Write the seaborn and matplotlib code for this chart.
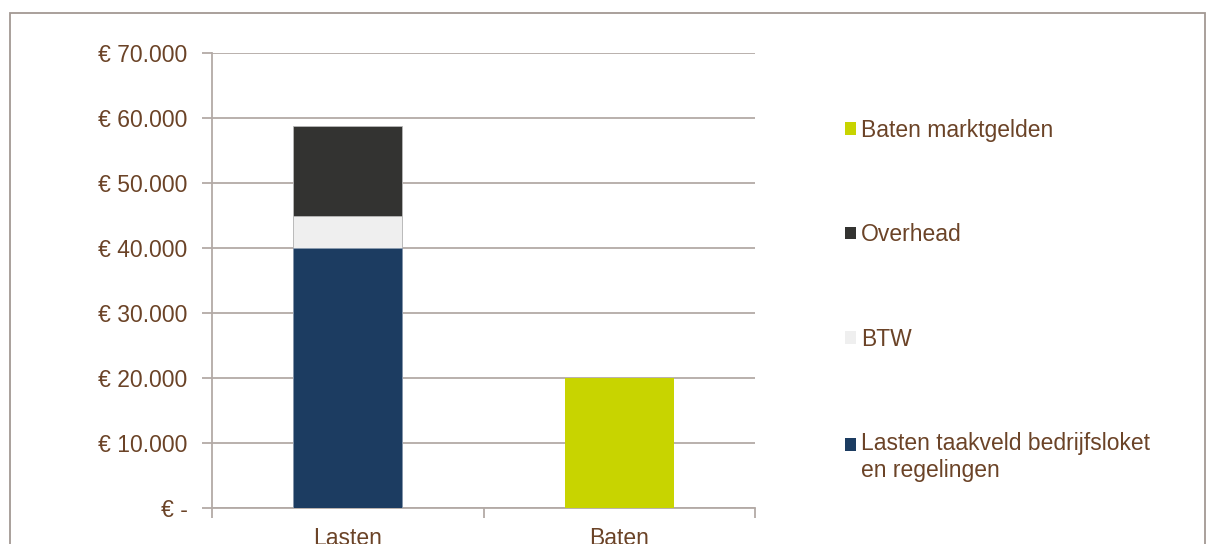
import matplotlib
matplotlib.use("Agg")
import matplotlib.pyplot as plt
from matplotlib.patches import Rectangle, Patch
from matplotlib.ticker import FuncFormatter
import numpy as np
import pandas as pd
import seaborn as sns

# --- data -------------------------------------------------------------
categories = ["Lasten", "Baten"]
lasten_taakveld = [40000, 0]      # Lasten taakveld bedrijfsloket en regelingen
btw = [5000, 0]                   # BTW
overhead = [13800, 0]             # Overhead
baten_marktgelden = [0, 20000]    # Baten marktgelden

series_labels = [
    "Lasten taakveld bedrijfsloket\nen regelingen",
    "BTW",
    "Overhead",
    "Baten marktgelden",
]
series_colors = ["#1c3c61", "#efefef", "#333331", "#c8d400"]
y_ticks = np.arange(0, 70001, 10000)

# --- styling -----------------------------------------------------------
sns.set_theme(style="white")
plt.rcParams["font.family"] = ["Liberation Sans", "DejaVu Sans"]
text_color = "#6b4327"
line_color = "#b3aaa6"
frame_color = "#a29893"

fig = plt.figure(figsize=(12.06, 5.44), dpi=100)
ax = fig.add_axes([212 / 1206, 36 / 544, 543 / 1206, 455 / 544])

# stacked bars drawn as cumulative layers, tallest first
df = pd.DataFrame({
    "categorie": categories,
    "laag1": np.array(lasten_taakveld),
    "laag2": np.array(lasten_taakveld) + np.array(btw),
    "laag3": np.array(lasten_taakveld) + np.array(btw) + np.array(overhead),
    "laag4": np.array(baten_marktgelden),
})
layers = [("laag3", series_colors[2], "#b8b8b8"),
          ("laag2", series_colors[1], "#b8b8b8"),
          ("laag1", series_colors[0], "#8a9bb0"),
          ("laag4", series_colors[3], "none")]
for col, colr, edge in layers:
    sns.barplot(data=df, x="categorie", y=col, order=categories, color=colr,
                width=0.4, saturation=1, edgecolor=edge, linewidth=0.6,
                ax=ax, zorder=3)

ax.set_xlim(-0.5, 1.5)
ax.set_ylim(0, 70000)
ax.set_xlabel("")
ax.set_ylabel("")

# y axis: euro labels with dot thousands separator
def euro(v, _pos):
    if v == 0:
        return "€ -"
    return "€ " + f"{int(v):,}".replace(",", ".")

ax.set_yticks(y_ticks)
ax.yaxis.set_major_formatter(FuncFormatter(euro))
ax.yaxis.grid(True, color=line_color, linewidth=1.3, zorder=0)
ax.set_axisbelow(True)

# x axis: tick marks between categories, labels centred on the bars
ax.set_xticks([-0.5, 0.5, 1.5])
ax.set_xticklabels([])
ax.set_xticks([0, 1], minor=True)
ax.set_xticklabels(categories, minor=True)
ax.tick_params(axis="x", which="major", direction="out", length=7, width=1.3,
               color=line_color, bottom=True)
ax.tick_params(axis="x", which="minor", length=0, pad=14, labelsize=16.5,
               labelcolor=text_color)
ax.tick_params(axis="y", direction="out", length=7, width=1.3, color=line_color,
               left=True, pad=10.5, labelsize=16.5, labelcolor=text_color)

for side in ["top", "right"]:
    ax.spines[side].set_visible(False)
for side in ["left", "bottom"]:
    ax.spines[side].set_color(line_color)
    ax.spines[side].set_linewidth(1.3)

# legend, reversed order
handles = [Patch(facecolor=c, edgecolor="none") for c in series_colors]
leg = fig.legend(handles[::-1], series_labels[::-1], loc="upper left",
                 bbox_to_anchor=(845 / 1206, 1 - 118.5 / 544), frameon=False,
                 fontsize=16.5, labelcolor=text_color, borderpad=0,
                 borderaxespad=0, handlelength=0.48, handleheight=0.48,
                 handletextpad=0.22, labelspacing=3.56)
# align the swatch of the two-line entry with its first line
last = leg.legend_handles[-1]
last.set_y(last.get_y() + 9.4)

# outer chart frame
fig.patches.append(Rectangle((10 / 1206, -0.2), 1195 / 1206, 1.2 - 12.5 / 544,
                             transform=fig.transFigure, fill=False,
                             edgecolor=frame_color, linewidth=1.3))

fig.savefig("out.png", dpi=100)
